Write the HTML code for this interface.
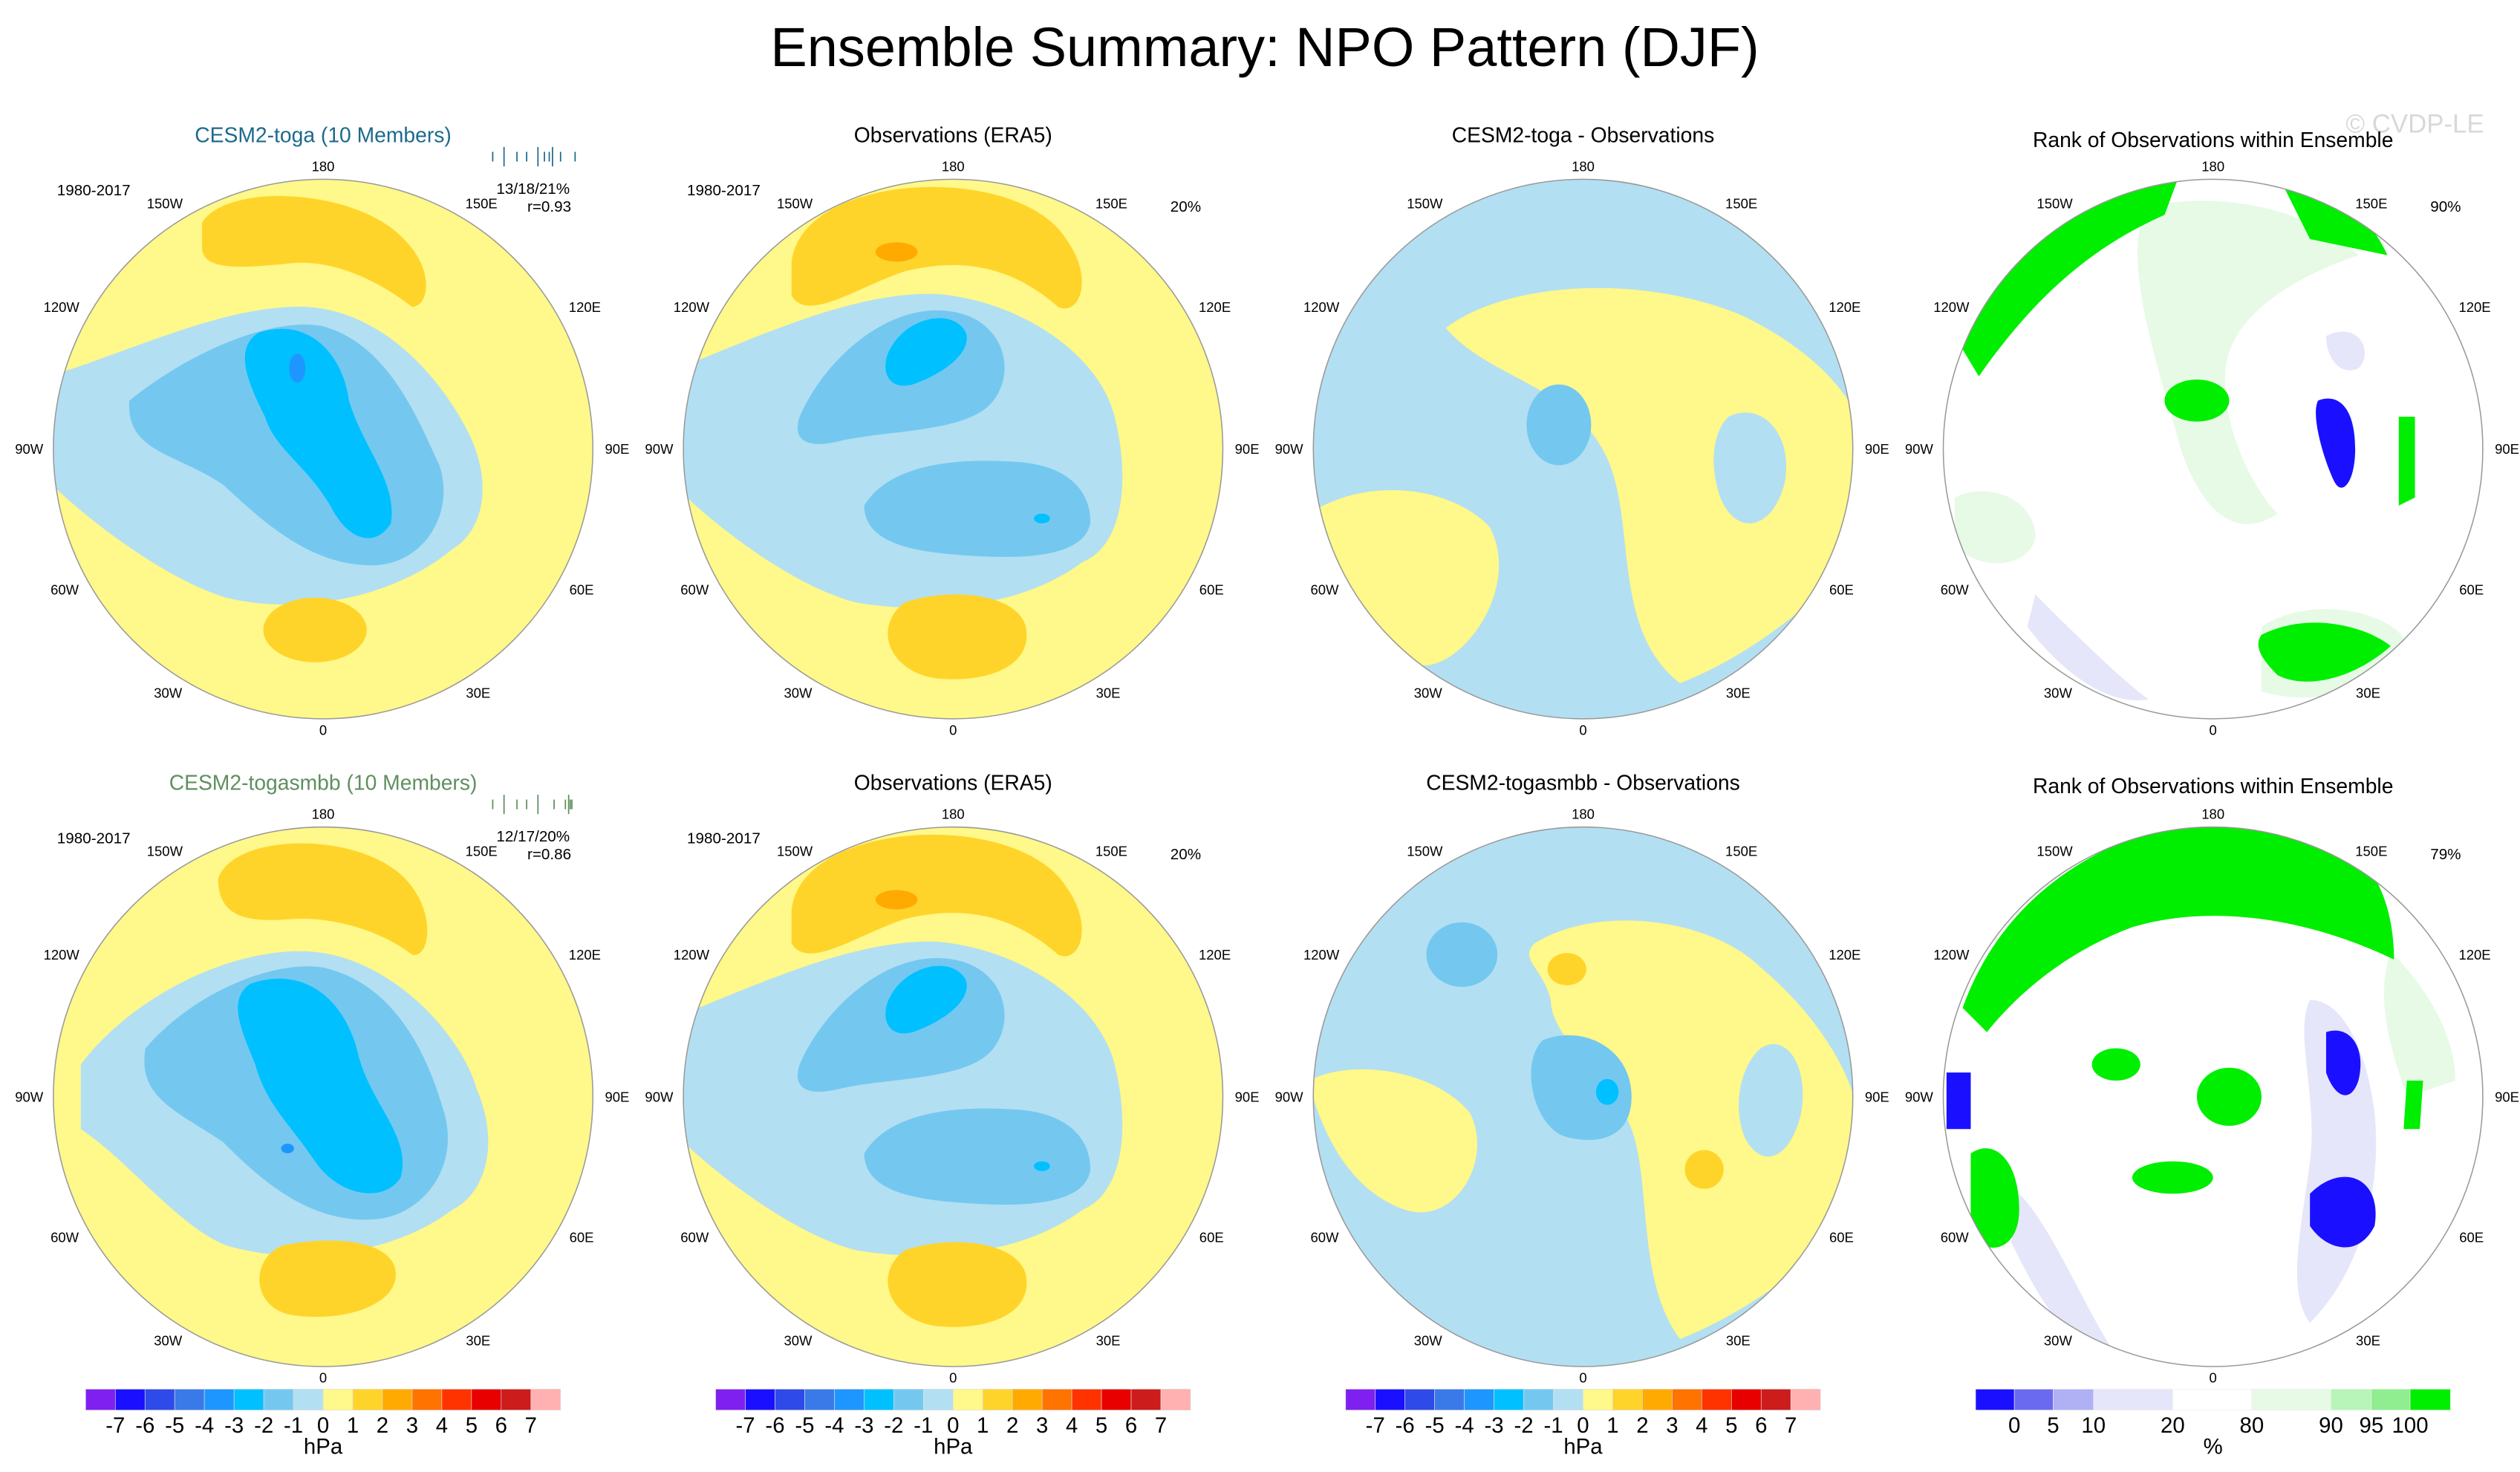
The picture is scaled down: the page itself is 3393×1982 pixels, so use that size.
<!DOCTYPE html>
<html><head><meta charset="utf-8"><style>
html,body{margin:0;padding:0;background:#fff}
svg{display:block}
text{font-family:"Liberation Sans",sans-serif}
</style></head><body>
<svg id="fig" width="3393" height="1982" viewBox="0 0 1560 911.3" xmlns="http://www.w3.org/2000/svg">
<defs>
<clipPath id="cc"><circle cx="0" cy="0" r="167"/></clipPath>
</defs>
<text x="783" y="41" font-size="34" text-anchor="middle">Ensemble Summary: NPO Pattern (DJF)</text>
<text x="1495" y="82" font-size="16" fill="#d8d8d8" text-anchor="middle">© CVDP-LE</text>

<!-- Panel titles -->
<text x="200" y="88" font-size="13" fill="#1d6a8c" text-anchor="middle">CESM2-toga (10 Members)</text>
<text x="590" y="88" font-size="13" text-anchor="middle">Observations (ERA5)</text>
<text x="980" y="88" font-size="13" text-anchor="middle">CESM2-toga - Observations</text>
<text x="1370" y="91" font-size="13" text-anchor="middle">Rank of Observations within Ensemble</text>
<text x="200" y="489" font-size="13" fill="#5f8f5f" text-anchor="middle">CESM2-togasmbb (10 Members)</text>
<text x="590" y="489" font-size="13" text-anchor="middle">Observations (ERA5)</text>
<text x="980" y="489" font-size="13" text-anchor="middle">CESM2-togasmbb - Observations</text>
<text x="1370" y="491" font-size="13" text-anchor="middle">Rank of Observations within Ensemble</text>

<!-- annotations -->
<g font-size="9.5">
<text x="58" y="121" text-anchor="middle">1980-2017</text>
<text x="448" y="121" text-anchor="middle">1980-2017</text>
<text x="58" y="522" text-anchor="middle">1980-2017</text>
<text x="448" y="522" text-anchor="middle">1980-2017</text>
<text x="734" y="131" text-anchor="middle">20%</text>
<text x="734" y="532" text-anchor="middle">20%</text>
<text x="1514" y="131" text-anchor="middle">90%</text>
<text x="1514" y="532" text-anchor="middle">79%</text>
<text x="330" y="120" text-anchor="middle">13/18/21%</text>
<text x="340" y="131" text-anchor="middle">r=0.93</text>
<text x="330" y="521" text-anchor="middle">12/17/20%</text>
<text x="340" y="532" text-anchor="middle">r=0.86</text>
</g>
<g id="ticks1" stroke="#1d6a8c" stroke-width="0.8"></g>
<g id="ticks2" stroke="#5f8f5f" stroke-width="0.8"></g>

<!-- Panel A -->
<g transform="translate(200,278)">
<g clip-path="url(#cc)">
<circle r="167" fill="#fff88a"/>
<path fill="#ffd42a" d="M-75,-140 C-60,-165 20,-162 50,-130 C70,-110 65,-88 55,-88 C40,-100 10,-118 -20,-115 C-50,-112 -75,-110 -75,-125 Z"/>
<path fill="#b3dff2" d="M-170,-45 C-120,-60 -60,-90 -10,-88 C40,-85 75,-40 90,-10 C105,20 100,50 80,62 C40,95 -20,102 -60,92 C-100,80 -150,40 -170,20 Z"/>
<path fill="#74c8f0" d="M-120,-30 C-80,-62 -30,-82 0,-76 C40,-65 58,-20 72,10 C82,40 62,72 30,72 C-10,72 -40,42 -62,22 C-92,2 -122,2 -120,-30Z"/>
<path fill="#00c0ff" d="M-40,-72 C-10,-82 12,-60 16,-30 C25,0 46,20 42,46 C32,62 15,56 5,36 C-10,10 -30,0 -36,-20 C-46,-40 -56,-62 -40,-72Z"/>
<ellipse cx="-16" cy="-50" rx="5" ry="9" fill="#1e96ff"/>
<ellipse cx="-5" cy="112" rx="32" ry="20" fill="#ffd42a"/>
</g><circle r="167" fill="none" stroke="#999" stroke-width="0.7"/></g>

<!-- Panel B -->
<g transform="translate(590,278)">
<g clip-path="url(#cc)">
<circle r="167" fill="#fff88a"/>
<path fill="#ffd42a" d="M-100,-115 C-95,-172 40,-178 70,-130 C88,-105 78,-82 65,-88 C40,-110 10,-120 -30,-110 C-60,-100 -90,-78 -100,-95Z"/>
<ellipse cx="-35" cy="-122" rx="13" ry="6" fill="#ffaa00"/>
<path fill="#b3dff2" d="M-170,-50 C-120,-70 -60,-98 -10,-96 C40,-92 90,-60 100,-20 C110,20 105,60 80,70 C40,100 -20,102 -60,95 C-100,85 -150,45 -170,25 Z"/>
<path fill="#74c8f0" d="M-95,-20 C-80,-55 -40,-92 0,-85 C30,-80 40,-50 25,-30 C10,-10 -40,-12 -70,-5 C-90,0 -100,-5 -95,-20Z"/>
<path fill="#74c8f0" d="M-55,35 C-40,10 0,5 40,8 C70,10 85,25 85,45 C82,68 40,68 10,66 C-20,64 -55,60 -55,35Z"/>
<path fill="#00c0ff" d="M-40,-60 C-30,-82 0,-88 8,-72 C12,-58 -10,-45 -25,-40 C-40,-36 -45,-48 -40,-60Z"/>
<ellipse cx="55" cy="43" rx="5" ry="3" fill="#00c0ff"/>
<path fill="#ffd42a" d="M-30,95 C0,85 40,90 45,110 C50,135 20,145 -10,142 C-40,138 -50,110 -30,95Z"/>
</g><circle r="167" fill="none" stroke="#999" stroke-width="0.7"/></g>

<!-- Panel C -->
<g transform="translate(980,278)">
<g clip-path="url(#cc)">
<circle r="167" fill="#b3dff2"/>
<path fill="#fff88a" d="M-85,-75 C-45,-105 40,-108 100,-82 C140,-62 160,-40 170,-20 L170,70 C140,95 110,125 60,145 C15,110 35,40 12,0 C-10,-40 -60,-45 -85,-75Z"/>
<path fill="#fff88a" d="M-170,40 C-130,15 -80,25 -58,48 C-35,90 -85,150 -110,130 C-140,105 -160,72 -170,40Z"/>
<path fill="#b3dff2" d="M90,-20 C110,-30 130,-10 125,20 C118,50 95,55 85,30 C78,10 80,-10 90,-20Z"/>
<ellipse cx="-15" cy="-15" rx="20" ry="25" fill="#74c8f0"/>
</g><circle r="167" fill="none" stroke="#999" stroke-width="0.7"/></g>

<!-- Panel D -->
<g transform="translate(1370,278)">
<g clip-path="url(#cc)">
<circle r="167" fill="#fff"/>
<path fill="#e6fae6" d="M-40,-150 C0,-160 60,-150 90,-120 C60,-110 20,-90 10,-60 C0,-30 20,20 40,40 C10,60 -10,30 -20,0 C-30,-40 -60,-120 -40,-150Z"/>
<path fill="#e6fae6" d="M-160,30 C-140,20 -110,30 -110,55 C-115,75 -145,75 -160,60Z"/>
<path fill="#e6fae6" d="M30,110 C60,90 110,100 120,120 C110,150 60,160 30,150Z"/>
<path fill="#e6e6fa" d="M-110,90 C-90,110 -60,140 -40,155 C-70,160 -100,130 -115,110Z"/>
<path fill="#e6e6fa" d="M70,-70 C90,-80 100,-60 90,-50 C80,-45 70,-55 70,-70Z"/>
<path fill="#00ee00" d="M-160,-70 C-130,-125 -80,-160 -20,-172 L-30,-145 C-75,-125 -110,-95 -145,-45Z"/>
<path fill="#00ee00" d="M40,-170 C75,-160 95,-148 108,-120 L60,-130 Z"/>
<ellipse cx="-10" cy="-30" rx="20" ry="13" fill="#00ee00"/>
<path fill="#00ee00" d="M30,115 C60,100 95,110 110,122 C90,140 60,150 40,140 C30,130 25,122 30,115Z"/>
<path fill="#00ee00" d="M115,-20 L125,-20 L125,30 L115,35Z"/>
<path fill="#1a10ff" d="M65,-30 C78,-35 88,-25 88,0 C88,20 80,30 75,20 C70,10 60,-20 65,-30Z"/>
</g><circle r="167" fill="none" stroke="#999" stroke-width="0.7"/></g>

<!-- Panel E -->
<g transform="translate(200,679)">
<g clip-path="url(#cc)">
<circle r="167" fill="#fff88a"/>
<path fill="#ffd42a" d="M-65,-135 C-55,-165 30,-165 55,-130 C70,-110 65,-85 55,-88 C40,-100 10,-112 -20,-110 C-45,-108 -65,-110 -65,-135 Z"/>
<path fill="#b3dff2" d="M-150,-20 C-120,-60 -60,-92 -10,-90 C40,-88 85,-40 95,-5 C110,30 100,60 80,70 C40,100 -20,104 -60,92 C-90,80 -120,40 -150,20 Z"/>
<path fill="#74c8f0" d="M-110,-30 C-80,-65 -30,-85 0,-80 C45,-70 65,-25 75,10 C85,45 60,75 30,76 C-10,78 -40,50 -62,28 C-92,8 -115,0 -110,-30Z"/>
<path fill="#00c0ff" d="M-45,-70 C-10,-82 15,-58 22,-25 C30,5 55,25 48,50 C38,66 10,62 -5,40 C-22,15 -35,5 -42,-20 C-50,-40 -60,-60 -45,-70Z"/>
<ellipse cx="-22" cy="32" rx="4" ry="3" fill="#1e96ff"/>
<path fill="#ffd42a" d="M-25,92 C10,85 45,90 45,110 C45,130 10,140 -20,135 C-45,130 -45,100 -25,92Z"/>
</g><circle r="167" fill="none" stroke="#999" stroke-width="0.7"/></g>

<!-- Panel F -->
<g transform="translate(590,679)">
<g clip-path="url(#cc)">
<circle r="167" fill="#fff88a"/>
<path fill="#ffd42a" d="M-100,-115 C-95,-172 40,-178 70,-130 C88,-105 78,-82 65,-88 C40,-110 10,-120 -30,-110 C-60,-100 -90,-78 -100,-95Z"/>
<ellipse cx="-35" cy="-122" rx="13" ry="6" fill="#ffaa00"/>
<path fill="#b3dff2" d="M-170,-50 C-120,-70 -60,-98 -10,-96 C40,-92 90,-60 100,-20 C110,20 105,60 80,70 C40,100 -20,102 -60,95 C-100,85 -150,45 -170,25 Z"/>
<path fill="#74c8f0" d="M-95,-20 C-80,-55 -40,-92 0,-85 C30,-80 40,-50 25,-30 C10,-10 -40,-12 -70,-5 C-90,0 -100,-5 -95,-20Z"/>
<path fill="#74c8f0" d="M-55,35 C-40,10 0,5 40,8 C70,10 85,25 85,45 C82,68 40,68 10,66 C-20,64 -55,60 -55,35Z"/>
<path fill="#00c0ff" d="M-40,-60 C-30,-82 0,-88 8,-72 C12,-58 -10,-45 -25,-40 C-40,-36 -45,-48 -40,-60Z"/>
<ellipse cx="55" cy="43" rx="5" ry="3" fill="#00c0ff"/>
<path fill="#ffd42a" d="M-30,95 C0,85 40,90 45,110 C50,135 20,145 -10,142 C-40,138 -50,110 -30,95Z"/>
</g><circle r="167" fill="none" stroke="#999" stroke-width="0.7"/></g>

<!-- Panel G -->
<g transform="translate(980,679)">
<g clip-path="url(#cc)">
<circle r="167" fill="#b3dff2"/>
<path fill="#fff88a" d="M-30,-95 C10,-120 80,-110 110,-80 C140,-55 165,-20 170,10 L170,80 C140,100 110,130 60,150 C30,110 45,40 25,10 C5,-20 -20,-40 -20,-60 C-25,-80 -40,-85 -30,-95Z"/>
<path fill="#fff88a" d="M-170,-10 C-140,-25 -90,-15 -70,10 C-55,40 -80,80 -110,70 C-140,60 -160,30 -170,-10Z"/>
<path fill="#b3dff2" d="M110,-30 C125,-40 140,-20 135,10 C128,40 110,45 100,25 C92,5 98,-20 110,-30Z"/>
<ellipse cx="-75" cy="-88" rx="22" ry="20" fill="#74c8f0"/>
<ellipse cx="-10" cy="-79" rx="12" ry="10" fill="#ffd42a"/>
<path fill="#74c8f0" d="M-25,-35 C0,-45 30,-30 30,0 C30,25 10,30 -10,25 C-30,20 -40,-20 -25,-35Z"/>
<ellipse cx="15" cy="-3" rx="7" ry="8" fill="#00c0ff"/>
<ellipse cx="75" cy="45" rx="12" ry="12" fill="#ffd42a"/>
</g><circle r="167" fill="none" stroke="#999" stroke-width="0.7"/></g>

<!-- Panel H -->
<g transform="translate(1370,679)">
<g clip-path="url(#cc)">
<circle r="167" fill="#fff"/>
<path fill="#e6e6fa" d="M60,-60 C80,-60 95,-30 100,10 C105,60 90,110 60,140 C45,120 55,80 60,40 C65,0 50,-40 60,-60Z"/>
<path fill="#e6e6fa" d="M-120,60 C-100,80 -80,130 -60,160 C-90,160 -110,120 -125,90Z"/>
<path fill="#e6fae6" d="M110,-90 C130,-70 150,-40 150,-10 L120,0 C110,-30 100,-60 110,-90Z"/>
<path fill="#00ee00" d="M-155,-55 C-125,-140 -40,-178 40,-174 C95,-165 112,-125 112,-85 C60,-110 0,-120 -50,-105 C-90,-90 -120,-65 -140,-40Z"/>
<path fill="#00ee00" d="M-150,35 C-135,25 -120,40 -120,70 C-120,95 -140,100 -150,85Z"/>
<ellipse cx="10" cy="0" rx="20" ry="18" fill="#00ee00"/>
<ellipse cx="-25" cy="50" rx="25" ry="10" fill="#00ee00"/>
<ellipse cx="-60" cy="-20" rx="15" ry="10" fill="#00ee00"/>
<path fill="#1a10ff" d="M70,-40 C85,-45 95,-30 90,-10 C85,5 75,0 70,-15Z"/>
<path fill="#1a10ff" d="M60,60 C80,40 105,50 100,80 C90,100 70,95 60,80Z"/>
<path fill="#1a10ff" d="M-165,-15 L-150,-15 L-150,20 L-165,20Z"/>
<path fill="#00ee00" d="M120,-10 L130,-10 L128,20 L118,20Z"/>
</g><circle r="167" fill="none" stroke="#999" stroke-width="0.7"/></g>

<g id="lonlabels" font-size="8.5" text-anchor="middle"></g>
<g id="cbars"></g>
</svg>
<script>
const NS="http://www.w3.org/2000/svg";
const svg=document.getElementById('fig');
// Longitude labels
const lonNames=["180","150E","120E","90E","60E","30E","0","30W","60W","90W","120W","150W"];
const lonOffsets=[[0,-172],[98,-149],[162,-85],[182,3],[160,90],[96,154],[0,177],[-96,154],[-160,90],[-182,3],[-162,-85],[-98,-149]];
const centersX=[200,590,980,1370];
const centersY=[278,679];
const lg=document.getElementById('lonlabels');
centersY.forEach(cy=>centersX.forEach(cx=>{
  lonNames.forEach((n,i)=>{
    const t=document.createElementNS(NS,'text');
    t.setAttribute('x',cx+lonOffsets[i][0]);t.setAttribute('y',cy+lonOffsets[i][1]);
    t.textContent=n;
    
    
    lg.appendChild(t);
  });
}));
// ensemble spread ticks
const spread1=[305,312,320,326,333,337,340,342,347,356];
const spread2=[305,312,320,326,333,343,350,352,353,354];
[[spread1,'ticks1',97],[spread2,'ticks2',498]].forEach(([arr,id,y])=>{
  const g=document.getElementById(id);
  arr.forEach((x,i)=>{const l=document.createElementNS(NS,'line');
    l.setAttribute('x1',x);l.setAttribute('x2',x);l.setAttribute('y1',y-(i%3==1?6:3));l.setAttribute('y2',y+(i%3==1?6:3));
    
    
    g.appendChild(l);});
});
// Colorbars
const anomColors=["#8020f0","#1a10ff","#2e4ae8","#3a7ae8","#1e96ff","#00c0ff","#74c8f0","#b3dff2","#fff88a","#ffd42a","#ffaa00","#ff7300","#ff3300","#e80000","#cc1c1c","#ffb0b0"];
const anomLabels=["-7","-6","-5","-4","-3","-2","-1","0","1","2","3","4","5","6","7"];
const rankColors=["#1a10ff","#6a6af0","#b0b0f5","#e6e6fa","#ffffff","#e6fae6","#b8f5b8","#90ee90","#00ee00"];
const rankBounds=[0,24,48,73,122,171,220,245,269,294];
const rankLabels=["0","5","10","20","80","90","95","100"];
const cb=document.getElementById('cbars');
function mk(tag,attrs,name){const e=document.createElementNS(NS,tag);for(const k in attrs)e.setAttribute(k,attrs[k]);
  
  
  cb.appendChild(e);return e;}
[53,443,833].forEach(x0=>{
  const w=294/anomColors.length;
  anomColors.forEach((c,i)=>mk('rect',{x:x0+i*w,y:860,width:w,height:13,fill:c,stroke:'#ddd','stroke-width':0.3},'colorbar-box'));
  anomLabels.forEach((l,i)=>{const t=mk('text',{x:x0+(i+1)*w,y:887,'font-size':13.5,'text-anchor':'middle'},'colorbar-label');t.textContent=l;});
  const u=mk('text',{x:x0+147,y:900,'font-size':13.5,'text-anchor':'middle'},'colorbar-unit');u.textContent='hPa';
});
{const x0=1223;
  rankColors.forEach((c,i)=>mk('rect',{x:x0+rankBounds[i],y:860,width:rankBounds[i+1]-rankBounds[i],height:13,fill:c,stroke:'#eee','stroke-width':0.3},'rank-colorbar-box'));
  rankLabels.forEach((l,i)=>{const t=mk('text',{x:x0+rankBounds[i+1],y:887,'font-size':13.5,'text-anchor':'middle'},'rank-colorbar-label');t.textContent=l;});
  const u=mk('text',{x:x0+147,y:900,'font-size':13.5,'text-anchor':'middle'},'rank-colorbar-unit');u.textContent='%';
}
</script>
</body></html>
